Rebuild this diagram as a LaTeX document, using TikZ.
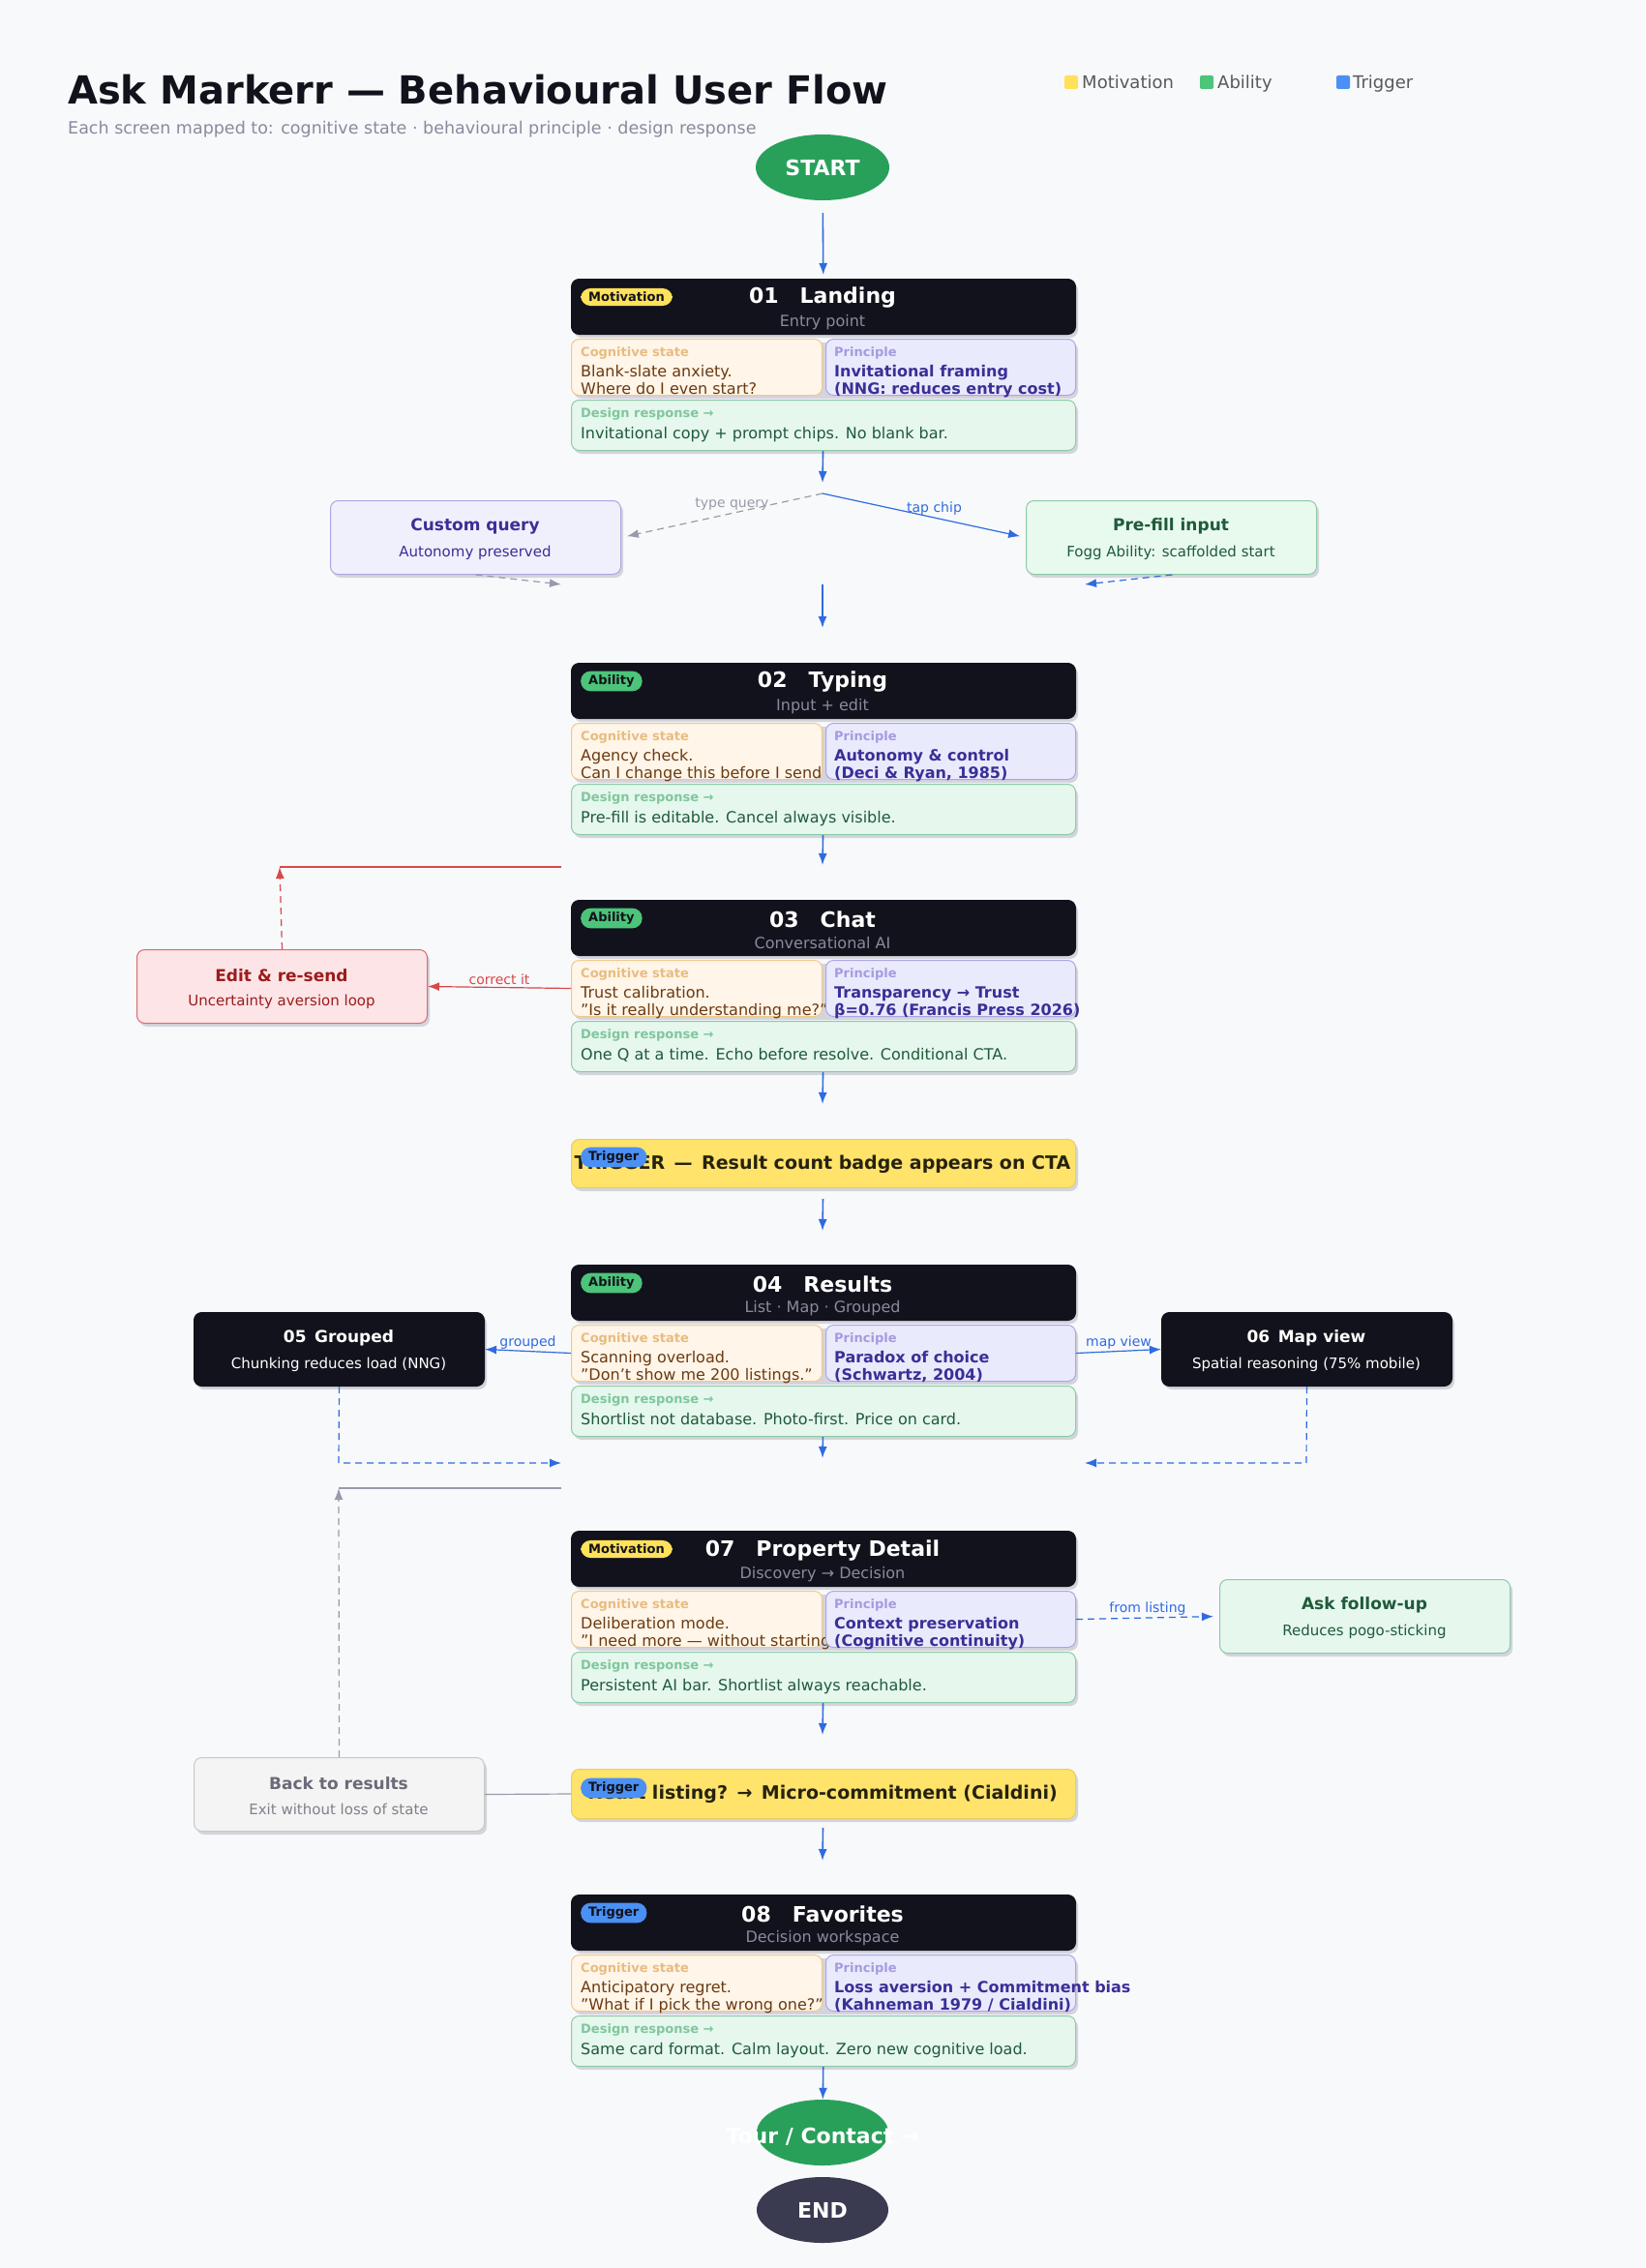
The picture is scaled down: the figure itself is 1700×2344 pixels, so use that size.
\documentclass[tikz,border=0pt]{standalone}
\usepackage{fontspec}
\setmainfont{DejaVu Sans}
\usetikzlibrary{arrows.meta,calc,shapes.geometric}
\definecolor{bgc}{HTML}{F8F9FB}
\definecolor{hdrc}{HTML}{12121C}
\definecolor{shc}{HTML}{D4D4DC}
\definecolor{cogf}{HTML}{FFF5E8}\definecolor{cogb}{HTML}{EFC98A}\definecolor{cogl}{HTML}{E8BC80}\definecolor{cogt}{HTML}{6B3A12}
\definecolor{prif}{HTML}{EAEAFD}\definecolor{prib}{HTML}{A9A6E6}\definecolor{pril}{HTML}{A49BE0}\definecolor{prit}{HTML}{3A2F96}
\definecolor{desf}{HTML}{E6F7EE}\definecolor{desb}{HTML}{8CCBA6}\definecolor{desl}{HTML}{7FC79C}\definecolor{dest}{HTML}{1F5A3A}
\definecolor{motc}{HTML}{FFE15A}\definecolor{abic}{HTML}{4CC47A}\definecolor{trgc}{HTML}{4A90F5}
\definecolor{bluec}{HTML}{2F6BE0}\definecolor{redc}{HTML}{D94848}\definecolor{grayc}{HTML}{9A9AAA}
\definecolor{subg}{HTML}{8A8A9E}\definecolor{barc}{HTML}{FFE36A}
\definecolor{startc}{HTML}{28A05A}\definecolor{endc}{HTML}{3A3A50}
\definecolor{cqf}{HTML}{F0F0FD}\definecolor{pff}{HTML}{E8FAEE}
\definecolor{edf}{HTML}{FDE4E6}\definecolor{edb}{HTML}{D96A70}\definecolor{edt}{HTML}{9B1C1C}
\definecolor{bkf}{HTML}{F4F4F4}\definecolor{bkb}{HTML}{C8C8C8}\definecolor{bkt}{HTML}{6A6A78}
\newcommand\myfs[1]{\fontsize{#1}{#1}\selectfont}
\tikzset{
 box/.style={draw,rounded corners=8pt,anchor=north west,inner sep=0pt,line width=1pt},
 badge/.style={rounded corners=10pt,inner xsep=8pt,inner ysep=4pt,font=\myfs{13}\bfseries,text=hdrc,anchor=west},
 lbl/.style={anchor=base west,inner sep=0pt,font=\myfs{13}\bfseries},
 bdy/.style={anchor=base west,inner sep=0pt,font=\myfs{16}},
 tip/.style={-{Latex[length=12pt,width=9pt]}},
 barr/.style={draw=bluec,line width=1.6pt,tip},
 thin/.style={line width=1.2pt},
 dsh/.style={dash pattern=on 7pt off 5pt},
 elab/.style={font=\myfs{14},inner sep=2pt},
 side/.style={draw,rounded corners=8pt,line width=1pt,minimum width=300pt,minimum height=76pt,anchor=north west},
 stitle/.style={font=\myfs{17}\bfseries},
 ssub/.style={font=\myfs{15}},
 sshadow/.style={fill=shc,rounded corners=8pt},
}
\newcommand\hdr[6]{%
 \fill[shc,rounded corners=8pt] (593,#2+4) rectangle (1114,#2+61);
 \node[box,fill=hdrc,draw=hdrc,minimum width=521pt,minimum height=57pt] (#1h) at (590,#2) {};
 \node[text=white,font=\myfs{22}\bfseries] (#1t) at (850,#2+20) {#5};
 \node[text=subg,font=\myfs{16}] (#1s) at (850,#2+45) {#6};
 \node[badge,fill=#4] (#1b) at (600,#2+19) {#3};
}
\newcommand\rows[7]{%
 \fill[shc,rounded corners=8pt] (593,#2+4) rectangle (1114,#2+62);
 \fill[shc,rounded corners=8pt] (593,#2+67) rectangle (1114,#2+119);
 \node[box,fill=cogf,draw=cogb,minimum width=259pt,minimum height=58pt] (#1c) at (590,#2) {};
 \node[lbl,text=cogl] at (600,#2+18) {Cognitive state};
 \node[bdy,text=cogt] at (600,#2+39) {#3};
 \node[bdy,text=cogt] at (600,#2+57) {#4};
 \node[box,fill=prif,draw=prib,minimum width=258pt,minimum height=58pt] (#1p) at (853,#2) {};
 \node[lbl,text=pril] at (862,#2+18) {Principle};
 \node[bdy,text=prit,font=\myfs{16}\bfseries] at (862,#2+39) {#5};
 \node[bdy,text=prit,font=\myfs{16}\bfseries] at (862,#2+57) {#6};
 \node[box,fill=desf,draw=desb,minimum width=521pt,minimum height=52pt] (#1d) at (590,#2+63) {};
 \node[lbl,text=desl] at (600,#2+81) {Design response →};
 \node[bdy,text=dest] at (600,#2+103) {#7};
}
% side box: name, x, y, fill, border, title colour, sub colour, title, sub
\newcommand\sidebox[9]{%
 \fill[sshadow] (#2+3,#3+4) rectangle (#2+303,#3+80);
 \node[side,fill=#4,draw=#5] (#1) at (#2,#3) {};
 \node[stitle,text=#6] at (#2+150,#3+27) {#8};
 \node[ssub,text=#7] at (#2+150,#3+54) {#9};
}
\begin{document}
\begin{tikzpicture}[x=1pt,y=-1pt]
\useasboundingbox (0,0) rectangle (1700,2344);
\fill[bgc] (0,0) rectangle (1700,2344);
% title
\node[anchor=base west,inner sep=0pt,font=\myfs{40}\bfseries,text=hdrc] (title) at (70,108) {Ask Markerr — Behavioural User Flow};
\node[anchor=base west,inner sep=0pt,font=\myfs{17.5},text=subg] (subtitle) at (70,139) {Each screen mapped to: cognitive state · behavioural principle · design response};
% legend
\fill[motc,rounded corners=2pt] (1100,78) rectangle (1114,92);
\node[anchor=base west,inner sep=0pt,font=\myfs{18},text=black!65] (lm) at (1118,92) {Motivation};
\fill[abic,rounded corners=2pt] (1240,78) rectangle (1254,92);
\node[anchor=base west,inner sep=0pt,font=\myfs{18},text=black!65] (la) at (1258,92) {Ability};
\fill[trgc,rounded corners=2pt] (1381,78) rectangle (1395,92);
\node[anchor=base west,inner sep=0pt,font=\myfs{18},text=black!65] (lt) at (1398,92) {Trigger};
% START
\node[ellipse,fill=startc,minimum width=138pt,minimum height=68pt,text=white,font=\myfs{22}\bfseries,inner sep=0pt] (start) at (850,173) {START};
% 01
\hdr{a}{288}{Motivation}{motc}{01\quad Landing}{Entry point}
\rows{a}{350}{Blank-slate anxiety.}{Where do I even start?}{Invitational framing}{(NNG: reduces entry cost)}{Invitational copy + prompt chips. No blank bar.}
% split
\coordinate (sp1) at (850,499);
\coordinate (sp0) at (850,510);
\sidebox{cq}{341}{517}{cqf}{prib}{prit}{prit}{Custom query}{Autonomy preserved}
\sidebox{pf}{1060}{517}{pff}{desb}{dest}{dest}{Pre-fill input}{Fogg Ability: scaffolded start}
\coordinate (cqe) at (580,604);
\coordinate (pfe) at (1121,604);
\coordinate (m1) at (850,604);
\coordinate (m2) at (850,649);
% 02
\hdr{b}{685}{Ability}{abic}{02\quad Typing}{Input + edit}
\rows{b}{747}{Agency check.}{Can I change this before I send it?}{Autonomy \& control}{(Deci \& Ryan, 1985)}{Pre-fill is editable. Cancel always visible.}
\coordinate (b2) at (850,894);
\coordinate (r1) at (580,896);
\coordinate (r2) at (289,896);
% 03
\hdr{c}{930}{Ability}{abic}{03\quad Chat}{Conversational AI}
\rows{c}{992}{Trust calibration.}{"Is it really understanding me?"}{Transparency → Trust}{β=0.76 (Francis Press 2026)}{One Q at a time. Echo before resolve. Conditional CTA.}
\sidebox{edit}{141}{981}{edf}{edb}{edt}{edt}{Edit \& re-send}{Uncertainty aversion loop}
\coordinate (c2) at (850,1141);
% trigger 1
\fill[sshadow] (593,1181) rectangle (1114,1231);
\node[box,fill=barc,draw=barc!85!black!60!barc,minimum width=521pt,minimum height=50pt] (t1) at (590,1177) {};
\node[font=\myfs{19}\bfseries,text=black!85!barc] (t1t) at (850,1203) {TRIGGER\enspace—\enspace Result count badge appears on CTA};
\node[badge,fill=trgc] (t1b) at (600,1196) {Trigger};
\coordinate (t1e) at (850,1272);
% 04
\hdr{d}{1307}{Ability}{abic}{04\quad Results}{List · Map · Grouped}
\rows{d}{1369}{Scanning overload.}{"Don't show me 200 listings."}{Paradox of choice}{(Schwartz, 2004)}{Shortlist not database. Photo-first. Price on card.}
\sidebox{gr}{200}{1356}{hdrc}{hdrc}{white}{white}{05\enspace Grouped}{Chunking reduces load (NNG)}
\sidebox{mv}{1200}{1356}{hdrc}{hdrc}{white}{white}{06\enspace Map view}{Spatial reasoning (75\% mobile)}
\coordinate (gr1) at (350,1512);
\coordinate (gr2) at (580,1512);
\coordinate (mv1) at (1350,1512);
\coordinate (mv2) at (1121,1512);
\coordinate (d2) at (850,1507);
\coordinate (g1) at (580,1538);
\coordinate (g2) at (350,1538);
% 07
\hdr{e}{1582}{Motivation}{motc}{07\quad Property Detail}{Discovery → Decision}
\rows{e}{1644}{Deliberation mode.}{"I need more — without starting over."}{Context preservation}{(Cognitive continuity)}{Persistent AI bar. Shortlist always reachable.}
\sidebox{af}{1260}{1632}{desf}{desb}{dest}{dest}{Ask follow-up}{Reduces pogo-sticking}
\sidebox{bk}{200}{1816}{bkf}{bkb}{bkt}{bkt!85}{Back to results}{Exit without loss of state}
\coordinate (e2) at (850,1793);
% trigger 2
\fill[sshadow] (593,1832) rectangle (1114,1883);
\node[box,fill=barc,draw=barc!85!black!60!barc,minimum width=521pt,minimum height=51pt] (t2) at (590,1828) {};
\node[font=\myfs{19}\bfseries,text=black!85!barc] (t2t) at (850,1854) {Heart listing?\enspace→\enspace Micro-commitment (Cialdini)};
\node[badge,fill=trgc] (t2b) at (600,1848) {Trigger};
\coordinate (t2e) at (850,1923);
% 08
\hdr{f}{1958}{Trigger}{trgc}{08\quad Favorites}{Decision workspace}
\rows{f}{2020}{Anticipatory regret.}{"What if I pick the wrong one?"}{Loss aversion + Commitment bias}{(Kahneman 1979 / Cialdini)}{Same card format. Calm layout. Zero new cognitive load.}
\node[ellipse,fill=startc,minimum width=136pt,minimum height=68pt,inner sep=0pt] (tour) at (850,2204) {};
\node[text=white,font=\myfs{22}\bfseries] (tourt) at (850,2208) {Tour / Contact →};
\node[ellipse,fill=endc,minimum width=136pt,minimum height=68pt,text=white,font=\myfs{22}\bfseries,inner sep=0pt] (end) at (850,2284) {END};
% connectors
\draw[barr,shorten <=13pt,shorten >=4pt] (start) -- (ah);
\draw[barr] (ad) -- (sp1);
\draw[grayc,thin,dsh,tip,shorten >=6pt] (sp0) -- node[elab,above,text=grayc,pos=0.45] {type query} (cq.east);
\draw[bluec,thin,tip,shorten >=6pt] (sp0) -- node[elab,above,text=bluec,pos=0.55] {tap chip} (pf.west);
\draw[grayc,thin,dsh,tip] (cq.south) -- (cqe);
\draw[bluec,thin,dsh,tip] ([xshift=1pt]pf.south) -- (pfe);
\draw[barr] (m1) -- (m2);
\draw[barr] (bd) -- (b2);
\draw[redc,thin] (r1) -- (r2);
\draw[redc,thin,dsh,tip] (edit.north) -- (r2);
\draw[redc,thin,tip] (cc.west) -- node[elab,above,text=redc] {correct it} (edit.east);
\draw[barr] (cd) -- (c2);
\draw[barr,shorten <=11pt] (t1) -- (t1e);
\draw[bluec,thin,tip] (dc.west) -- node[elab,above,text=bluec] {grouped} (gr.east);
\draw[bluec,thin,tip] (dp.east) -- node[elab,above,text=bluec] {map view} (mv.west);
\draw[bluec,thin,dsh,tip] (gr.south) -- (gr1) -- (gr2);
\draw[bluec,thin,dsh,tip] (mv.south) -- (mv1) -- (mv2);
\draw[barr] (dd) -- (d2);
\draw[grayc,thin] (g1) -- (g2);
\draw[grayc,thin,dsh,tip] (bk.north) -- (g2);
\draw[grayc,thin] (bk.east) -- (t2.west);
\draw[bluec,thin,dsh,tip,shorten >=6pt] (ep.east) -- node[elab,above,text=bluec] {from listing} (af.west);
\draw[barr] (ed) -- (e2);
\draw[barr,shorten <=9pt] (t2) -- (t2e);
\draw[barr] (fd) -- (tour);
\end{tikzpicture}
\end{document}
